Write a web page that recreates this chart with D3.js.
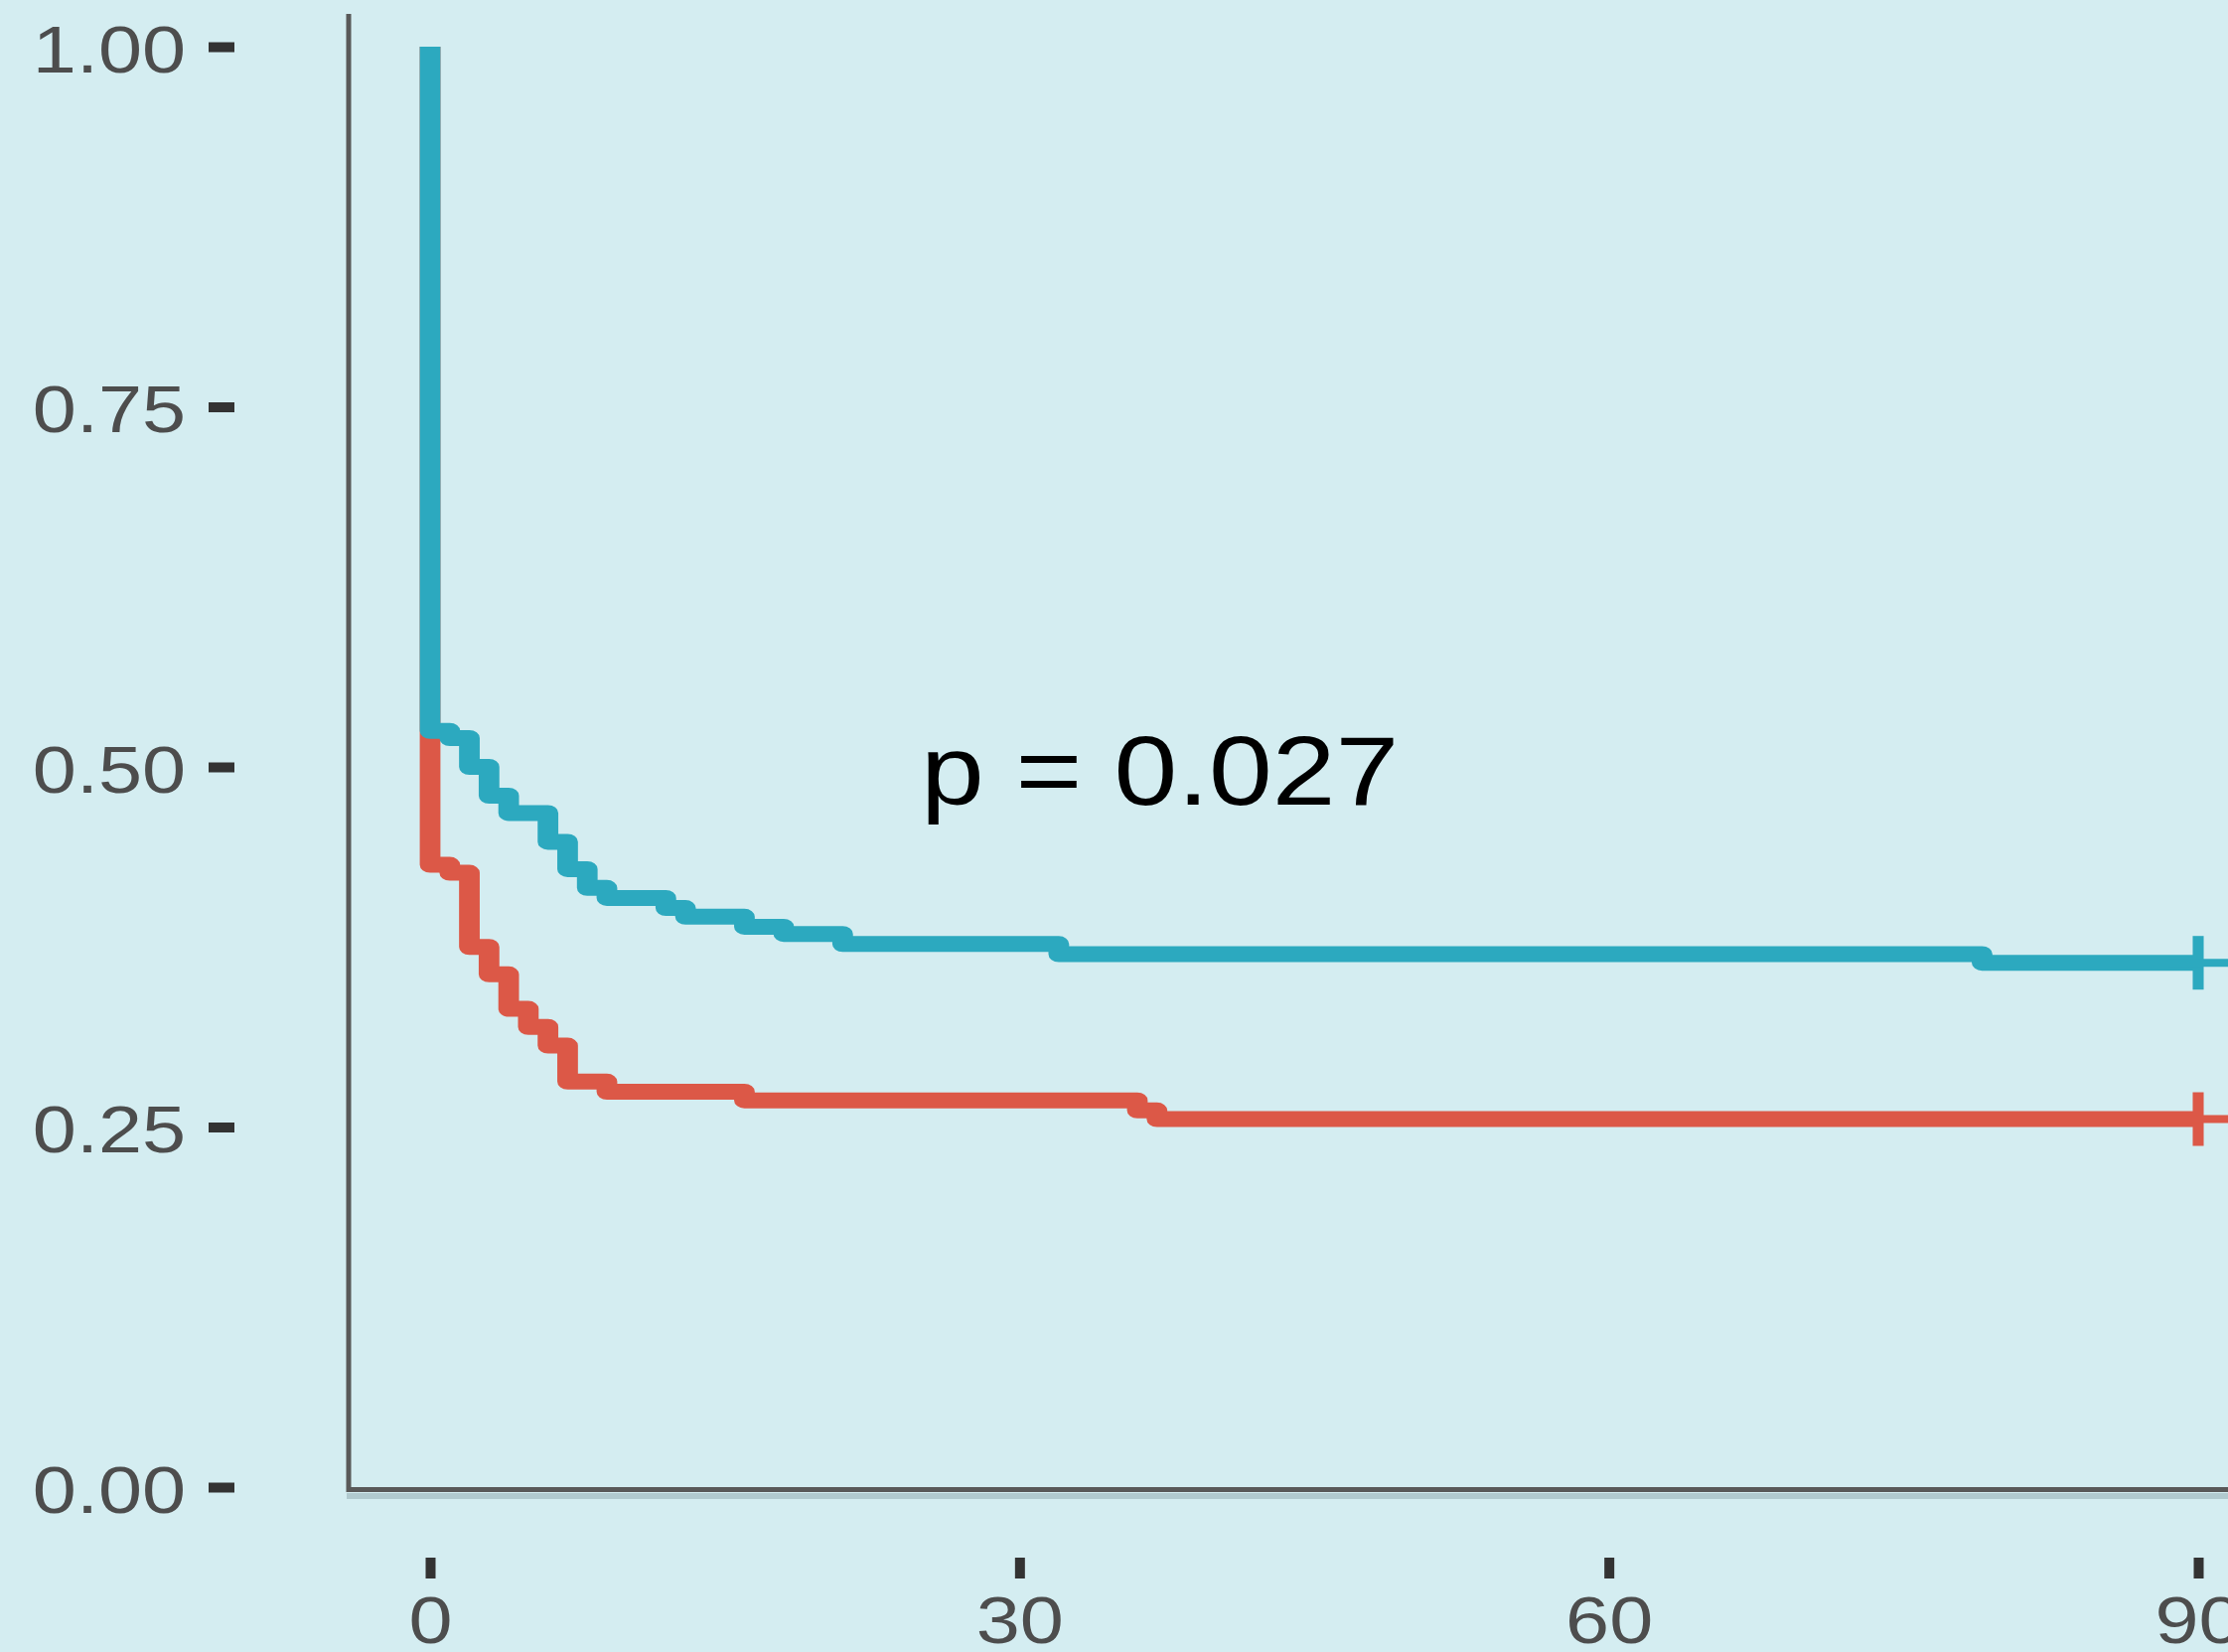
<!DOCTYPE html>
<html lang="en">
<head>
<meta charset="UTF-8">
<title>Survival curves</title>
<script src="https://d3js.org/d3.v7.min.js"></script>
<style>
    body { margin: 0; padding: 0; background: #d4edf1; }
    svg { display: block; }
    text { font-family: "Liberation Sans", Arial, sans-serif; }
</style>
</head>
<body>
<svg id="chart" width="2243" height="1663"></svg>
<script>
// survival data (days, survival probability)
const blueTime = [0, 0, 1, 2, 3, 4, 6, 7, 8, 9, 12, 13, 16, 18, 21, 32, 79, 90];
const blueSurv = [1.00, 0.525, 0.520, 0.500, 0.480, 0.468, 0.448, 0.429, 0.416, 0.409, 0.402, 0.396, 0.389, 0.384, 0.377, 0.370, 0.364, 0.364];

const redTime = [0, 0, 1, 2, 3, 4, 5, 6, 7, 9, 16, 36, 37, 90];
const redSurv = [1.00, 0.432, 0.4265, 0.375, 0.356, 0.332, 0.3195, 0.3065, 0.2815, 0.2745, 0.2685, 0.2615, 0.2555, 0.2555];

// censored points at end of follow-up
const blueCensor = [90];
const redCensor = [90];

const xTicks = [0, 30, 60, 90];
const yTicks = [0, 0.25, 0.5, 0.75, 1];
const pLabel = 'p = 0.027';

const W = 2243, H = 1663;
const svg = d3.select('#chart');

svg.append('rect').attr('width', W).attr('height', H).attr('fill', '#d4edf1');

const x = d3.scaleLinear().domain([0, 90]).range([433, 2213]);
const y = d3.scaleLinear().domain([0, 1]).range([1497, 47]);

// source image is stretched sideways, so marks get wider vertical strokes
const sx = 1.3;

// stretch text a bit wider, like the source image
function widen(sel, k) {
    sel.each(function() {
        const w = this.getComputedTextLength();
        d3.select(this).attr('textLength', w * k).attr('lengthAdjust', 'spacingAndGlyphs');
    });
}

// axis lines (drawn separately, ticks sit apart from them)
svg.append('line')
    .attr('x1', 349).attr('x2', W).attr('y1', 1506).attr('y2', 1506)
    .attr('stroke', '#a3bcc2').attr('stroke-width', 6).attr('opacity', 0.7);
svg.append('line')
    .attr('x1', 351).attr('x2', 351).attr('y1', 14).attr('y2', 1502)
    .attr('stroke', '#595959').attr('stroke-width', 5);
svg.append('line')
    .attr('x1', 349).attr('x2', W).attr('y1', 1499.5).attr('y2', 1499.5)
    .attr('stroke', '#595959').attr('stroke-width', 5);

// y axis
const yAxis = svg.append('g')
    .attr('transform', 'translate(236,0)')
    .call(d3.axisLeft(y).tickValues(yTicks).tickFormat(d3.format('.2f')).tickSize(26).tickPadding(23));
yAxis.select('.domain').remove();
yAxis.selectAll('.tick line').attr('stroke', '#333').attr('stroke-width', 10);
yAxis.selectAll('.tick text')
    .attr('fill', '#4d4d4d').attr('font-size', 66).attr('dy', '0.38em')
    .call(widen, 1.2);

// x axis
const xAxis = svg.append('g')
    .attr('transform', 'translate(0,1568)')
    .call(d3.axisBottom(x).tickValues(xTicks).tickFormat(d3.format('d')).tickSize(21).tickPadding(18));
xAxis.select('.domain').remove();
xAxis.selectAll('.tick line').attr('stroke', '#333').attr('stroke-width', 10);
xAxis.selectAll('.tick text')
    .attr('fill', '#4d4d4d').attr('font-size', 66)
    .call(widen, 1.2);

// step curves
const line = d3.line()
    .x(d => x(d[0]) / sx)
    .y(d => y(d[1]))
    .curve(d3.curveStepAfter);

const groups = [
    { time: redTime, surv: redSurv, censor: redCensor, color: '#dc5847' },
    { time: blueTime, surv: blueSurv, censor: blueCensor, color: '#2ca9bf' }
];

const plot = svg.append('g').attr('transform', `scale(${sx},1)`);

groups.forEach(g => {
    const pts = g.time.map((t, i) => [t, g.surv[i]]);
    plot.append('path')
        .datum(pts)
        .attr('fill', 'none')
        .attr('stroke', g.color)
        .attr('stroke-width', 16)
        .attr('stroke-linejoin', 'round')
        .attr('d', line);

    const last = g.surv[g.surv.length - 1];
    const marks = plot.append('g').selectAll('g')
        .data(g.censor)
        .enter().append('g')
        .attr('transform', d => `translate(${x(d) / sx},${y(last)})`);
    marks.append('line')
        .attr('x1', 0).attr('x2', 0).attr('y1', -27).attr('y2', 27)
        .attr('stroke', g.color).attr('stroke-width', 8.5);
    marks.append('line')
        .attr('x1', -30 / sx).attr('x2', 30 / sx).attr('y1', 0).attr('y2', 0)
        .attr('stroke', g.color).attr('stroke-width', 8);
});

// p value annotation
svg.append('text')
    .attr('x', 927).attr('y', 810)
    .attr('font-size', 98)
    .attr('fill', '#000')
    .text(pLabel)
    .call(widen, 1.17);
</script>
</body>
</html>
